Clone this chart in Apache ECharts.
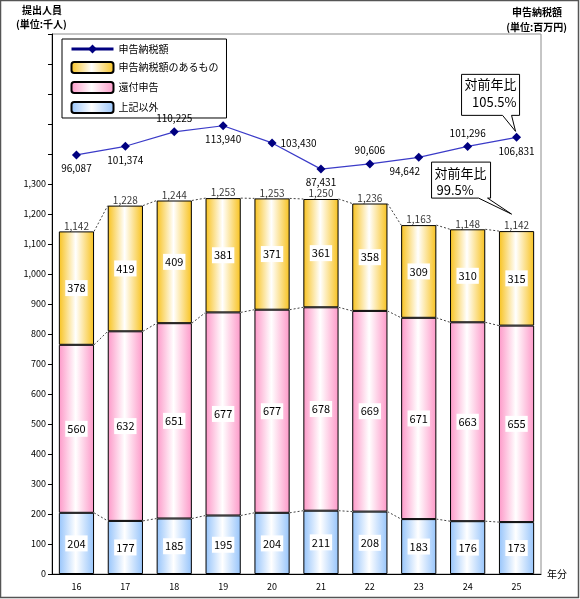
<!DOCTYPE html>
<html>
<head>
<meta charset="utf-8">
<script src="https://cdn.jsdelivr.net/npm/echarts@6/dist/echarts.min.js"></script>
<style>
html,body{margin:0;padding:0;background:#fff;}
#c{width:580px;height:599px;}
</style>
</head>
<body>
<div id="c"></div>
<script>
// ---- data ----
const years = ['16','17','18','19','20','21','22','23','24','25'];
const otherVals = [204,177,185,195,204,211,208,183,176,173];      // 上記以外
const refundVals = [560,632,651,677,677,678,669,671,663,655];     // 還付申告
const taxPayVals = [378,419,409,381,371,361,358,309,310,315];     // 申告納税額のあるもの
const totalLabels = [1142,1228,1244,1253,1253,1250,1236,1163,1148,1142];
const taxAmount = [96087,101374,110225,113940,103430,87431,90606,94642,101296,106831]; // 申告納税額
const taxLabelPos = ['bottom','bottom','top','bottom','right','bottom','top','bottom','top','bottom'];
const maxLabeledTick = 1300;

const FONT = '"Noto Sans CJK JP", "Noto Sans", sans-serif';
const chart = echarts.init(document.getElementById('c'), null, {renderer:'canvas'});

function grad(c){
  return new echarts.graphic.LinearGradient(0,0,1,0,[
    {offset:0,color:c},{offset:0.48,color:'#ffffff'},{offset:1,color:c}]);
}
const cum1 = otherVals.slice();
const cum2 = otherVals.map((v,i)=>v+refundVals[i]);
const cum3 = cum2.map((v,i)=>v+taxPayVals[i]);
const connData = years.slice(0,-1).map((_,i)=>[i,cum1[i],cum2[i],cum3[i],cum1[i+1],cum2[i+1],cum3[i+1]]);
const BARW = 0.72;

const segLabel = {
  show:true, position:'inside', color:'#000', fontSize:11, fontFamily:FONT,
  backgroundColor:'#fff', padding:[3,2,2,2]
};

chart.setOption({
  animation:false,
  textStyle:{fontFamily:FONT},
  grid:{left:52,right:39,top:34,bottom:25,show:true,borderColor:'#8c8c8c',borderWidth:1},
  legend:{
    orient:'vertical', left:62, top:39, padding:[5,8,4,8], itemGap:7,
    itemWidth:42, itemHeight:11, borderColor:'#000', borderWidth:1, backgroundColor:'#fff',
    textStyle:{fontSize:10,color:'#000',fontFamily:FONT},
    data:[
      {name:'申告納税額', lineStyle:{width:3,color:'#000080'}, itemStyle:{color:'#000080'}},
      {name:'申告納税額のあるもの'},
      {name:'還付申告'},
      {name:'上記以外'}
    ]
  },
  xAxis:{
    type:'category', data:years,
    axisLine:{lineStyle:{color:'#000',width:1}},
    axisTick:{inside:true,length:3,lineStyle:{color:'#000'}},
    axisLabel:{color:'#000',fontSize:9,margin:8,fontFamily:FONT},
    name:'年分', nameLocation:'end', nameGap:6,
    nameTextStyle:{color:'#000',fontSize:10,padding:[14,0,0,0],fontFamily:FONT}
  },
  yAxis:[{
    type:'value', min:0, max:1800, interval:100,
    axisLine:{show:true,lineStyle:{color:'#000'}},
    axisTick:{show:true,length:4,lineStyle:{color:'#000'}},
    splitLine:{show:false},
    axisLabel:{color:'#000',fontSize:9,margin:6,fontFamily:FONT,
      formatter:v=> v<=maxLabeledTick ? v.toLocaleString('en-US') : ''}
  },{
    type:'value', min:-160000, max:170000, show:false, splitLine:{show:false}
  }],
  series:[
    {name:'上記以外', type:'bar', stack:'s', barWidth:(BARW*100)+'%', data:otherVals,
     itemStyle:{color:grad('#96c4fb'),borderColor:'#000',borderWidth:1},
     label:segLabel},
    {name:'還付申告', type:'bar', stack:'s', data:refundVals,
     itemStyle:{color:grad('#fd98c8'),borderColor:'#000',borderWidth:1},
     label:segLabel},
    {name:'申告納税額のあるもの', type:'bar', stack:'s', data:taxPayVals,
     itemStyle:{color:grad('#f8c21e'),borderColor:'#000',borderWidth:1},
     label:segLabel},
    {name:'totals', type:'scatter', data:cum3.map((v,i)=>[i,v]), symbolSize:1,
     itemStyle:{color:'rgba(0,0,0,0)'}, silent:true, z:5,
     label:{show:true,position:'top',distance:0,color:'#000',fontSize:10,fontFamily:FONT,
       formatter:p=>totalLabels[p.dataIndex].toLocaleString('en-US')}},
    {name:'conn', type:'custom', data:connData, silent:true, z:1,
     encode:{x:0,y:1},
     renderItem:function(params,api){
       const i = api.value(0);
       const hw = api.size([1,0])[0]*BARW/2;
       const ch = [];
       for(let k=0;k<3;k++){
         const a = api.coord([i, api.value(1+k)]);
         const b = api.coord([i+1, api.value(4+k)]);
         ch.push({type:'line',shape:{x1:a[0]+hw,y1:a[1],x2:b[0]-hw,y2:b[1]},
           style:{stroke:'#444',lineWidth:1,lineDash:[2,2]}});
       }
       return {type:'group',children:ch};
     }},
    {name:'申告納税額', type:'line', yAxisIndex:1,
     data:taxAmount.map((v,i)=>({value:v,label:{position:taxLabelPos[i], offset: i===7?[-14,0]:[0,0]}})),
     symbol:'diamond', symbolSize:9, z:6,
     lineStyle:{color:'#3b3bc8',width:1.2},
     itemStyle:{color:'#000080'},
     label:{show:true,color:'#000',fontSize:10,distance:4,fontFamily:FONT,
       formatter:p=>p.value.toLocaleString('en-US')}}
  ]
});

// annotations anchored to data
const lineIdx = 5;
const p1 = chart.convertToPixel({seriesIndex:lineIdx},[9,taxAmount[9]]);
const p2 = chart.convertToPixel({seriesIndex:0},[9,cum3[9]]);
const r1 = (taxAmount[9]/taxAmount[8]*100).toFixed(1)+'%';
const r2 = (totalLabels[9]/totalLabels[8]*100).toFixed(1)+'%';

function callout(L,T,R,B,w1,w2,tip){
  return {type:'polygon', z:50, shape:{points:[[L,T],[R,T],[R,B],[w2,B],tip,[w1,B],[L,B]]},
    style:{fill:'#fff',stroke:'#000',lineWidth:1}};
}
const c1 = {L:p1[0]-55,R:p1[0]+3,T:p1[1]-63,B:p1[1]-22};
const c2 = {L:p2[0]-85,R:p2[0]-26,T:p2[1]-69,B:p2[1]-33};
const tStyle = (s,x,y,align)=>({type:'text',z:51,style:{text:s,x:x,y:y,fill:'#000',font:'13px '+FONT,textAlign:align||'left',textVerticalAlign:'middle'}});
const hdr = (s,x,y,align)=>({type:'text',z:51,style:{text:s,x:x,y:y,fill:'#000',font:'bold 10px '+FONT,textAlign:align||'left',textVerticalAlign:'middle'}});

chart.setOption({graphic:[
  {type:'rect',shape:{x:0.5,y:0.5,width:578,height:597},style:{fill:'none',stroke:'#555',lineWidth:1.5},silent:true},
  hdr('提出人員',22,10),
  hdr('(単位:千人)',16,24),
  hdr('申告納税額',562,12,'right'),
  hdr('(単位:百万円)',567,27,'right'),
  callout(c1.L,c1.T,c1.R,c1.B,p1[0]-14,p1[0]-5,[p1[0]-1,p1[1]-6]),
  tStyle('対前年比',c1.L+3,c1.T+10),
  tStyle(r1,c1.R-3,c1.T+28,'right'),
  callout(c2.L,c2.T,c2.R,c2.B,p2[0]-38,p2[0]-29,[p2[0]-5,p2[1]-17]),
  tStyle('対前年比',c2.L+3,c2.T+11),
  tStyle(r2,c2.L+5,c2.T+28)
]});
</script>
</body>
</html>
